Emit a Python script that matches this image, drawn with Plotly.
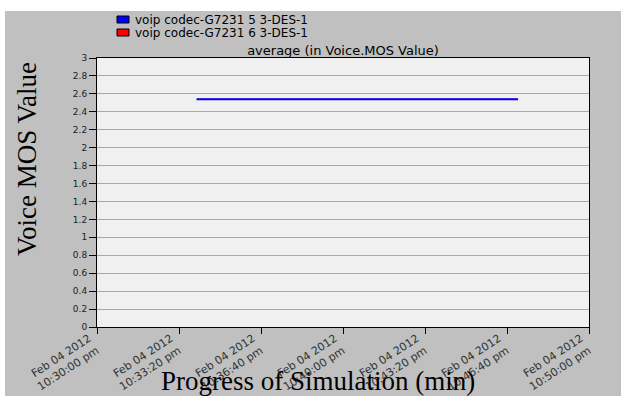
import plotly.graph_objects as go

# Sample times and average Voice MOS values for the two VoIP flows
times = [
    "2012-02-04 22:34:03",
    "2012-02-04 22:37:20",
    "2012-02-04 22:40:40",
    "2012-02-04 22:44:00",
    "2012-02-04 22:47:07",
]
mos_flow_5 = [2.54, 2.54, 2.54, 2.54, 2.54]
mos_flow_6 = [2.54, 2.54, 2.54, 2.54, 2.54]

series_names = ["voip codec-G7231 5 3-DES-1", "voip codec-G7231 6 3-DES-1"]
series_colors = ["#0000ff", "#ff0000"]

x_tick_times = [
    "2012-02-04 22:30:00",
    "2012-02-04 22:33:20",
    "2012-02-04 22:36:40",
    "2012-02-04 22:40:00",
    "2012-02-04 22:43:20",
    "2012-02-04 22:46:40",
    "2012-02-04 22:50:00",
]
x_tick_labels = [
    "Feb 04 2012<br>10:30:00 pm",
    "Feb 04 2012<br>10:33:20 pm",
    "Feb 04 2012<br>10:36:40 pm",
    "Feb 04 2012<br>10:40:00 pm",
    "Feb 04 2012<br>10:43:20 pm",
    "Feb 04 2012<br>10:46:40 pm",
    "Feb 04 2012<br>10:50:00 pm",
]
y_tick_values = [0, 0.2, 0.4, 0.6, 0.8, 1, 1.2, 1.4, 1.6, 1.8, 2, 2.2, 2.4, 2.6, 2.8, 3]
y_tick_labels = ["0", "0.2", "0.4", "0.6", "0.8", "1", "1.2", "1.4", "1.6", "1.8",
                 "2", "2.2", "2.4", "2.6", "2.8", "3"]

chart_title = "average (in Voice.MOS Value)"
y_title = "Voice MOS Value"
x_title = "Progress of Simulation (min)"

W, H = 621, 396
M_L, M_R, M_T, M_B = 97, 32, 58, 69
PW, PH = W - M_L - M_R, H - M_T - M_B


def px_x(x):
    """Pixel column -> paper x coordinate."""
    return (x - M_L) / PW


def px_y(y):
    """Pixel row -> paper y coordinate."""
    return (H - M_B - y) / PH


legend_font = dict(family="DejaVu Sans", size=12, color="#000000")
title_font = dict(family="DejaVu Sans", size=13, color="#000000")
serif_font = dict(family="Liberation Serif", size=27, color="#000000")

fig = go.Figure()

# Flow 6 underneath (thinner so it stays hidden), flow 5 drawn on top
for name, vals, color, width in [(series_names[1], mos_flow_6, series_colors[1], 1),
                                 (series_names[0], mos_flow_5, series_colors[0], 2)]:
    fig.add_trace(go.Scatter(
        x=times, y=vals, mode="lines", name=name,
        line=dict(color=color, width=width), showlegend=False,
    ))

shapes = []
annotations = []

# White strips along the top and left edge of the page
shapes.append(dict(type="rect", xref="paper", yref="paper", layer="below",
                   x0=px_x(-5), x1=px_x(W + 5), y0=px_y(11), y1=px_y(-5),
                   fillcolor="white", line=dict(width=0)))
shapes.append(dict(type="rect", xref="paper", yref="paper", layer="below",
                   x0=px_x(-5), x1=px_x(5), y0=px_y(H + 5), y1=px_y(-5),
                   fillcolor="white", line=dict(width=0)))

# Legend: colour swatch + series name per row
legend_rows = [19.5, 32.5]
for name, color, row in zip(series_names, series_colors, legend_rows):
    shapes.append(dict(type="rect", xref="paper", yref="paper",
                       x0=px_x(117), x1=px_x(129), y0=px_y(row + 3.5), y1=px_y(row - 3.5),
                       fillcolor=color, line=dict(color="#000000", width=1)))
    annotations.append(dict(text=name, xref="paper", yref="paper",
                            x=px_x(133), y=px_y(row), xanchor="left", yanchor="middle",
                            showarrow=False, font=legend_font))

# Axis titles
annotations.append(dict(text=y_title, xref="paper", yref="paper",
                        x=px_x(27), y=px_y(159), xanchor="center", yanchor="middle",
                        textangle=-90, showarrow=False, font=serif_font))
annotations.append(dict(text=x_title, xref="paper", yref="paper",
                        x=px_x(318), y=px_y(381), xanchor="center", yanchor="middle",
                        showarrow=False, font=serif_font))

fig.update_layout(
    width=W, height=H,
    margin=dict(l=M_L, r=M_R, t=M_T, b=M_B, autoexpand=False),
    paper_bgcolor="#c0c0c0",
    plot_bgcolor="#f0f0f0",
    title=dict(text=chart_title, x=343 / W, xanchor="center",
               y=1 - 50 / H, yanchor="middle", font=title_font),
    shapes=shapes,
    annotations=annotations,
    xaxis=dict(
        type="date", automargin=False,
        range=[x_tick_times[0], x_tick_times[-1]],
        tickmode="array", tickvals=x_tick_times, ticktext=x_tick_labels,
        tickangle=-33, tickfont=dict(family="DejaVu Sans", size=11, color="#333333"),
        ticklabelshift=-8, ticklabelstandoff=-6,
        ticks="outside", ticklen=6, tickcolor="#000000",
        showgrid=False, zeroline=False,
        showline=True, linecolor="#000000", linewidth=1, mirror=True,
    ),
    yaxis=dict(
        automargin=False,
        range=[0, 3],
        tickmode="array", tickvals=y_tick_values, ticktext=y_tick_labels,
        tickfont=dict(family="DejaVu Sans", size=9, color="#222222"),
        ticks="outside", ticklen=7, tickcolor="#000000",
        showgrid=True, gridcolor="#a8a8a8", gridwidth=1,
        zeroline=False,
        showline=True, linecolor="#000000", linewidth=1, mirror=True,
    ),
)

fig.write_html("out.html")
